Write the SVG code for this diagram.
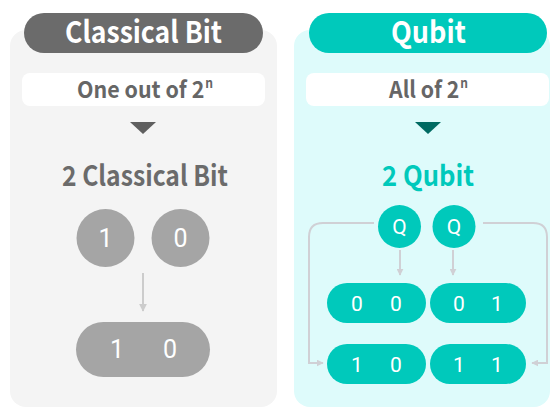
<svg xmlns="http://www.w3.org/2000/svg" width="554" height="408" viewBox="0 0 554 408">
<defs>
<style>
text{font-family:"Noto Sans CJK KR","Noto Sans",sans-serif;text-anchor:middle}
.hd{font-size:30px;font-weight:bold;fill:#fff}
.sub{font-size:23px;font-weight:bold;fill:#666}
.ttl{font-size:28px;font-weight:bold}
.num{font-family:Roboto,"Noto Sans",sans-serif;font-size:25px;fill:#fff}
.qn{font-family:Roboto,"Noto Sans",sans-serif;font-size:21px;fill:#fff}
.conn{fill:none;stroke:#d0d0d5;stroke-width:2}
</style>
<marker id="ah" viewBox="0 0 10 10" refX="9" refY="5" markerWidth="7" markerHeight="7" markerUnits="userSpaceOnUse" orient="auto">
<path d="M0,0 L10,5 L0,10 z" fill="#d0d0d5"/>
</marker>
<marker id="ahg" viewBox="0 0 10 10" refX="9" refY="5" markerWidth="8" markerHeight="14" markerUnits="userSpaceOnUse" orient="auto">
<path d="M0,0 L10,5 L0,10 z" fill="#cccccc"/>
</marker>
</defs>
<rect width="554" height="408" fill="#fff"/>

<g id="classical-panel">
<rect x="10" y="30" width="267" height="377" rx="16" fill="#f4f4f4"/>
</g>
<g id="qubit-panel">
<rect x="294" y="30" width="256" height="377" rx="16" fill="#defbfb"/>
</g>

<g id="classical-header">
<rect x="24" y="13" width="239" height="40" rx="20" fill="#6b6b6b"/>
<text class="hd" x="143.5" y="43" textLength="157" lengthAdjust="spacingAndGlyphs">Classical Bit</text>
</g>
<g id="qubit-header">
<rect x="309" y="13" width="238" height="40" rx="20" fill="#00c9bb"/>
<text class="hd" x="428.5" y="43" textLength="75" lengthAdjust="spacingAndGlyphs">Qubit</text>
</g>

<g id="classical-sub">
<rect x="22" y="73" width="243" height="33" rx="8" fill="#fff"/>
<text class="sub" x="145" y="98" textLength="136" lengthAdjust="spacingAndGlyphs">One out of 2<tspan font-size="13" dx="1" dy="-10">n</tspan></text>
</g>
<g id="qubit-sub">
<rect x="306" y="73" width="243" height="33" rx="8" fill="#fff"/>
<text class="sub" x="428.5" y="98" textLength="79" lengthAdjust="spacingAndGlyphs">All of 2<tspan font-size="13" dx="1" dy="-10">n</tspan></text>
</g>

<g id="classical-tri"><path d="M130,122 L156,122 L143,134 z" fill="#5f5f5f"/></g>
<g id="qubit-tri"><path d="M415,122 L441,122 L428,134 z" fill="#006a62"/></g>

<g id="classical-title"><text class="ttl" x="145" y="186" fill="#6b6b6b" textLength="166" lengthAdjust="spacingAndGlyphs">2 Classical Bit</text></g>
<g id="qubit-title"><text class="ttl" x="428" y="186" fill="#00c9bb" textLength="92" lengthAdjust="spacingAndGlyphs">2 Qubit</text></g>

<g id="bit1">
<circle cx="105.5" cy="238" r="29" fill="#a5a5a5"/>
<text class="num" x="105.5" y="247">1</text>
</g>
<g id="bit0">
<circle cx="180.5" cy="238" r="29" fill="#a5a5a5"/>
<text class="num" x="180.5" y="247">0</text>
</g>
<g id="bits10">
<rect x="76" y="322" width="134" height="55" rx="27.5" fill="#a5a5a5"/>
<text class="num" x="117" y="358">1</text>
<text class="num" x="170" y="358">0</text>
</g>

<g id="q1">
<circle cx="399.5" cy="226.5" r="21.5" fill="#00c9bb"/>
<text class="qn" x="399.5" y="234">Q</text>
</g>
<g id="q2">
<circle cx="454" cy="226.5" r="21.5" fill="#00c9bb"/>
<text class="qn" x="454" y="234">Q</text>
</g>
<g id="s00">
<rect x="327" y="283" width="99" height="40" rx="20" fill="#00c9bb"/>
<text class="qn" x="357" y="310.5">0</text><text class="qn" x="396" y="310.5">0</text>
</g>
<g id="s01">
<rect x="430" y="283" width="96" height="40" rx="20" fill="#00c9bb"/>
<text class="qn" x="459" y="310.5">0</text><text class="qn" x="497" y="310.5">1</text>
</g>
<g id="s10">
<rect x="327" y="344" width="99" height="40" rx="20" fill="#00c9bb"/>
<text class="qn" x="357" y="371.5">1</text><text class="qn" x="396" y="371.5">0</text>
</g>
<g id="s11">
<rect x="430" y="344" width="96" height="40" rx="20" fill="#00c9bb"/>
<text class="qn" x="459" y="371.5">1</text><text class="qn" x="497" y="371.5">1</text>
</g>

<g id="connectors">
<path d="M143,273 L143,311" stroke="#cccccc" stroke-width="2" fill="none" marker-end="url(#ahg)"/>
<path class="conn" d="M400,250 L400,275" marker-end="url(#ah)"/>
<path class="conn" d="M453,250 L453,275" marker-end="url(#ah)"/>
<path class="conn" d="M374,223 L323,223 Q309,223 309,237 L309,363 L323,363" marker-end="url(#ah)"/>
<path class="conn" d="M483,223 L533,223 Q547,223 547,237 L547,363 L532,363" marker-end="url(#ah)"/>
</g>
</svg>
